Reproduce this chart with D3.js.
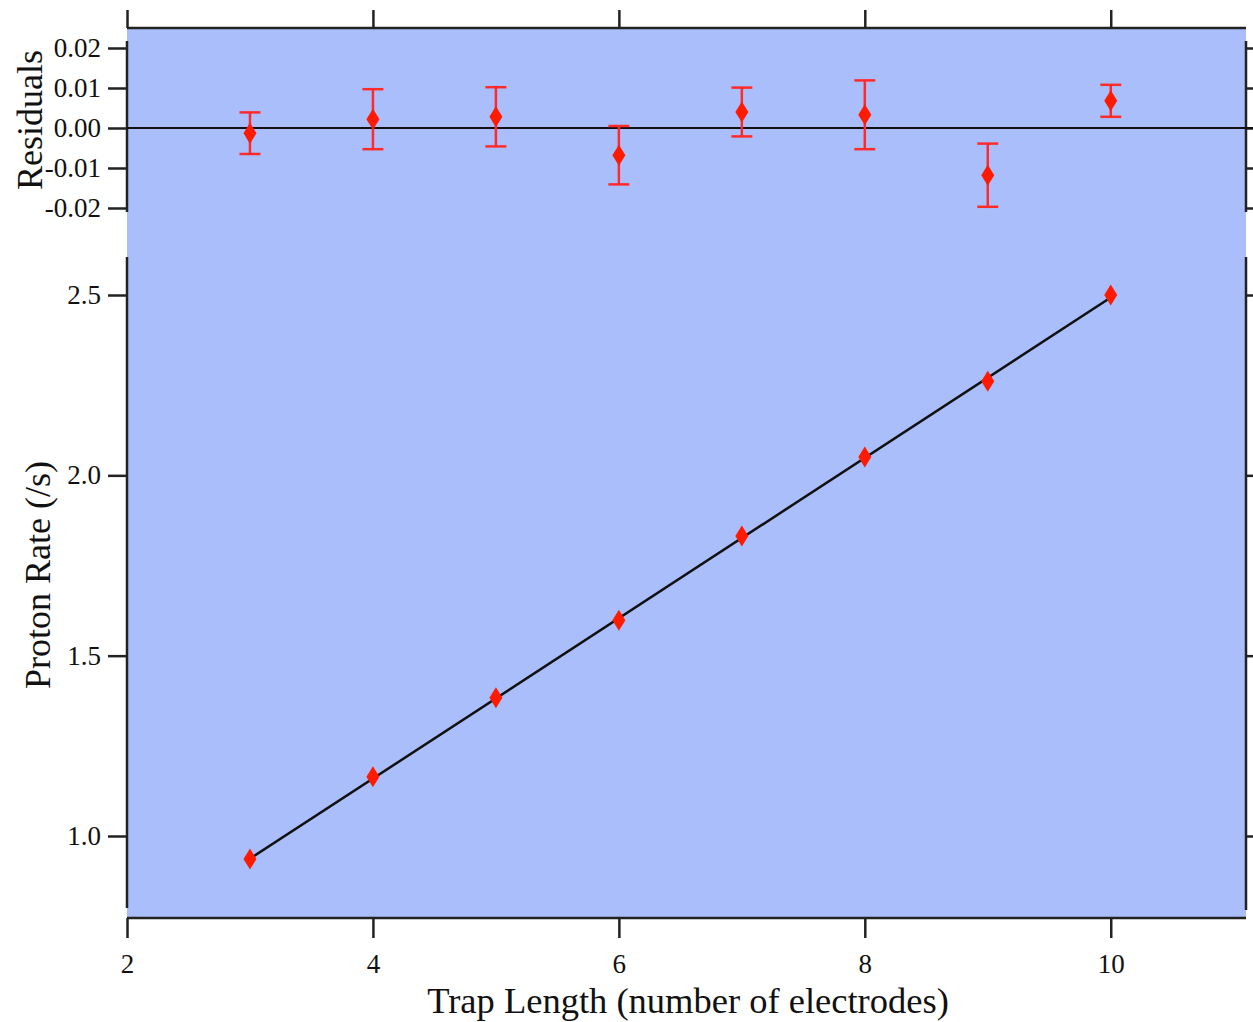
<!DOCTYPE html>
<html>
<head>
<meta charset="utf-8">
<script src="https://cdn.jsdelivr.net/npm/d3@7"></script>
<style>
  body { margin: 0; background: #fff; }
  text { font-family: "Liberation Serif", "Times New Roman", serif; fill: #111; }
  .tick line { stroke: #222; stroke-width: 2.5; }
  .spine { stroke: #222; stroke-width: 2.5; fill: none; }
</style>
</head>
<body>
<svg width="1253" height="1022"></svg>
<script>
// trap length (number of electrodes)
var trapLength = [3, 4, 5, 6, 7, 8, 9, 10];
// measured proton rate (/s)
var protonRate = [0.936, 1.164, 1.383, 1.598, 1.832, 2.051, 2.261, 2.500];
// residuals from the linear fit, with their errors
var residual = [-0.0013, 0.0022, 0.0028, -0.0068, 0.0040, 0.0033, -0.0118, 0.0068];
var residualErr = [0.0052, 0.0075, 0.0074, 0.0073, 0.0061, 0.0086, 0.0079, 0.0040];
// fit line end points
var fitX = [3, 10];
var fitY = [0.937, 2.493];

var xTicks = [2, 4, 6, 8, 10];
var rateTicks = [1.0, 1.5, 2.0, 2.5];
var resTicks = [-0.02, -0.01, 0, 0.01, 0.02];

var svg = d3.select("svg");

var plotL = 127, plotR = 1246, plotT = 28, plotB = 918;

var x = d3.scaleLinear().domain([2, 11.1]).range([plotL, plotR]);
var yRate = d3.scaleLinear().domain([1.0, 2.5]).range([836, 295]);
var yRes = d3.scaleLinear().domain([-0.02, 0.02]).range([208, 48]);

// plot background
svg.append("rect")
    .attr("x", plotL).attr("y", plotT)
    .attr("width", plotR - plotL).attr("height", plotB - plotT)
    .attr("fill", "#aabefc");

// spines (broken between the two panels)
var spines = [
  [plotL, 41, plotL, 212], [plotR, 41, plotR, 212],
  [plotL, 257, plotL, 908], [plotR, 257, plotR, 910],
  [plotL, plotT, plotR, plotT], [plotL, plotB, plotR, plotB]
];
svg.selectAll("line.spine")
  .data(spines)
  .enter().append("line")
    .attr("class", "spine")
    .attr("x1", function(d) { return d[0]; })
    .attr("y1", function(d) { return d[1]; })
    .attr("x2", function(d) { return d[2]; })
    .attr("y2", function(d) { return d[3]; });

function styleAxis(g) {
  g.select(".domain").remove();
  g.selectAll("text").attr("font-size", 27).attr("fill", "#111");
}

// plain hyphen for negative numbers
function fmt(spec) {
  var f = d3.format(spec);
  return function(v) { return f(v).replace("\u2212", "-"); };
}

// bottom axis
svg.append("g")
    .attr("transform", "translate(0," + plotB + ")")
    .call(d3.axisBottom(x).tickValues(xTicks).tickSize(20).tickPadding(16)
      .tickFormat(d3.format("d")))
    .call(styleAxis);

// top axis, ticks only
svg.append("g")
    .attr("transform", "translate(0," + plotT + ")")
    .call(d3.axisTop(x).tickValues(xTicks).tickSize(18).tickFormat(""))
    .call(styleAxis);

// proton rate axes
svg.append("g")
    .attr("transform", "translate(" + plotL + ",0)")
    .call(d3.axisLeft(yRate).tickValues(rateTicks).tickSize(19).tickPadding(7)
      .tickFormat(fmt(".1f")))
    .call(styleAxis);
svg.append("g")
    .attr("transform", "translate(" + plotR + ",0)")
    .call(d3.axisRight(yRate).tickValues(rateTicks).tickSize(10).tickFormat(""))
    .call(styleAxis);

// residual axes
svg.append("g")
    .attr("transform", "translate(" + plotL + ",0)")
    .call(d3.axisLeft(yRes).tickValues(resTicks).tickSize(19).tickPadding(7)
      .tickFormat(fmt(".2f")))
    .call(styleAxis);
svg.append("g")
    .attr("transform", "translate(" + plotR + ",0)")
    .call(d3.axisRight(yRes).tickValues(resTicks).tickSize(10).tickFormat(""))
    .call(styleAxis);

// zero line of the residual panel
svg.append("line")
    .attr("x1", plotL).attr("x2", 1253)
    .attr("y1", yRes(0)).attr("y2", yRes(0))
    .attr("stroke", "#111").attr("stroke-width", 2);

// fit line
svg.append("line")
    .attr("x1", x(fitX[0])).attr("y1", yRate(fitY[0]))
    .attr("x2", x(fitX[1])).attr("y2", yRate(fitY[1]))
    .attr("stroke", "#111").attr("stroke-width", 2.5);

var diamond = "M0,-10.5L6.5,0L0,10.5L-6.5,0Z";
var red = "#ff1a00";

// residual error bars
var res = trapLength.map(function(t, i) {
  return { x: t, y: residual[i], e: residualErr[i] };
});
var eb = svg.append("g").attr("stroke", "#ff2b2b").attr("stroke-width", 2.5);
eb.selectAll("line.v").data(res).enter().append("line")
    .attr("x1", function(d) { return x(d.x); })
    .attr("x2", function(d) { return x(d.x); })
    .attr("y1", function(d) { return yRes(d.y - d.e); })
    .attr("y2", function(d) { return yRes(d.y + d.e); });
[-1, 1].forEach(function(s) {
  eb.selectAll(null).data(res).enter().append("line")
      .attr("x1", function(d) { return x(d.x) - 10.5; })
      .attr("x2", function(d) { return x(d.x) + 10.5; })
      .attr("y1", function(d) { return yRes(d.y + s * d.e); })
      .attr("y2", function(d) { return yRes(d.y + s * d.e); });
});

svg.append("g").selectAll("path")
  .data(res)
  .enter().append("path")
    .attr("d", diamond)
    .attr("fill", red)
    .attr("transform", function(d) { return "translate(" + x(d.x) + "," + yRes(d.y) + ")"; });

// proton rate points
svg.append("g").selectAll("path")
  .data(trapLength)
  .enter().append("path")
    .attr("d", diamond)
    .attr("fill", red)
    .attr("transform", function(d, i) { return "translate(" + x(d) + "," + yRate(protonRate[i]) + ")"; });

// axis titles
svg.append("text")
    .attr("x", 688).attr("y", 1013)
    .attr("text-anchor", "middle")
    .attr("font-size", 36.5)
    .text("Trap Length (number of electrodes)");

svg.append("text")
    .attr("transform", "translate(50,575) rotate(-90)")
    .attr("text-anchor", "middle")
    .attr("font-size", 36)
    .text("Proton Rate (/s)");

svg.append("text")
    .attr("transform", "translate(42,120) rotate(-90)")
    .attr("text-anchor", "middle")
    .attr("font-size", 36)
    .text("Residuals");
</script>
</body>
</html>
